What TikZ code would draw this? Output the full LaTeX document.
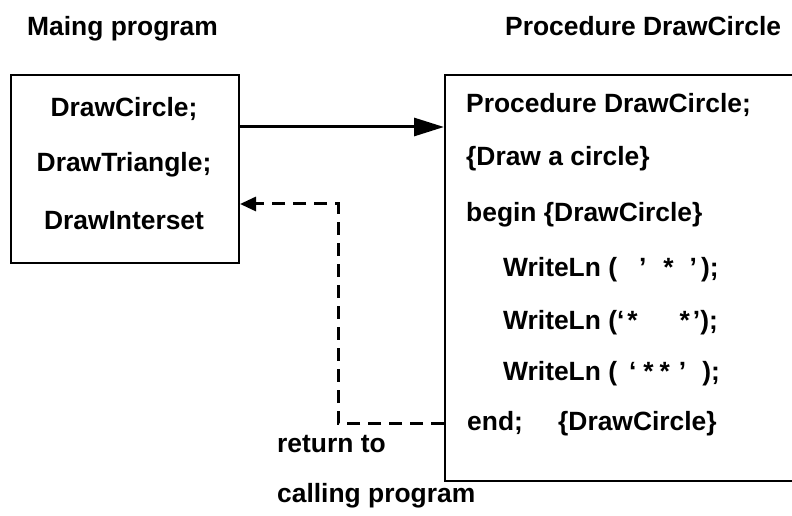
\documentclass[tikz,border=0pt]{standalone}
\usepackage{fontspec}
\setmainfont{Liberation Sans}
\usetikzlibrary{arrows.meta}
\begin{document}
\begin{tikzpicture}[x=1bp,y=-1bp,
  txt/.style={font=\bfseries\fontsize{26.5}{32}\selectfont, inner sep=0pt},
  box/.style={draw, line width=2bp, inner sep=0pt},
  callarrow/.style={line width=3bp, -{Triangle[length=30bp,width=18bp]}},
  retarrow/.style={line width=3bp, dash pattern=on 13bp off 8bp, -{Triangle[length=16bp,width=14bp]}}]
\useasboundingbox (0,0) rectangle (792,516);
\clip (0,0) rectangle (792,516);
% boxes
\node[box, minimum width=228bp, minimum height=188bp, anchor=north west] (main) at (10,74) {};
\node[box, minimum width=370bp, minimum height=406bp, anchor=north west] (proc) at (444,74) {};
% titles
\node[txt, anchor=base west] (tmain) at (27,36) {Maing program};
\node[txt, anchor=base west] (tproc) at (505,36) {Procedure DrawCircle};
% main program text
\node[txt, anchor=base] (m1) at (124,117) {DrawCircle;};
\node[txt, anchor=base] (m2) at (124,172) {DrawTriangle;};
\node[txt, anchor=base] (m3) at (124,230) {DrawInterset};
% procedure text
\node[txt, anchor=base west] (p1) at (466,113) {Procedure DrawCircle;};
\node[txt, anchor=base west] (p2) at (466,166) {\{Draw a circle\}};
\node[txt, anchor=base west] (p3) at (466,222) {begin \{DrawCircle\}};
\node[txt, anchor=base west] (p4) at (503,277) {WriteLn (\hspace{22bp}'\hspace{17bp}*\hspace{16bp}'\hspace{4bp});};
\node[txt, anchor=base west] (p5) at (503,329) {WriteLn (`\hspace{3bp}*\hspace{42bp}*\hspace{3bp}');};
\node[txt, anchor=base west] (p6) at (503,380) {WriteLn (\hspace{12bp}`\hspace{7bp}*\hspace{6bp}*\hspace{9bp}'\hspace{16bp});};
\node[txt, anchor=base west] (p7) at (467,430) {end;};
\node[txt, anchor=base west] (p8) at (558,430) {\{DrawCircle\}};
% return label
\node[txt, anchor=base west] (r1) at (277,452) {return to};
\node[txt, anchor=base west] (r2) at (277,502) {calling program};
% connectors
\coordinate (ycall) at (0,127);
\coordinate (c1) at (338,423);
\coordinate (c2) at (338,204);
\draw[callarrow] (main.east |- ycall) -- (proc.west |- ycall);
\draw[retarrow] (proc.west |- c1) -- (c1) -- (c2) -- (main.east |- c2);
\end{tikzpicture}
\end{document}
